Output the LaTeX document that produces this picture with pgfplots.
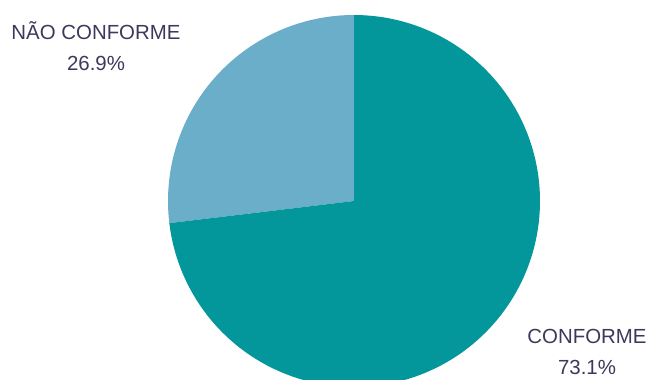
\documentclass[border=0pt]{standalone}
\usepackage{pgfplots}
\pgfplotsset{compat=1.18}
\usepackage{fontspec}
\setmainfont{Liberation Sans}
\definecolor{conf}{RGB}{3,151,155}
\definecolor{naoconf}{RGB}{106,174,201}
\definecolor{lbl}{RGB}{60,58,92}
\def\vNao{26.9}
\def\vConf{73.1}
\def\cx{354}
\def\cy{179}
\def\rr{186}
\begin{document}
\begin{tikzpicture}
\begin{axis}[
  width=651bp, height=380bp, scale only axis,
  xmin=0, xmax=651, ymin=0, ymax=380,
  axis lines=none, clip=true,
]
\addplot[fill=naoconf, draw=none, domain=90:{90+3.6*\vNao}, samples=120, variable=\t]
  ({\cx+\rr*cos(\t)},{\cy+\rr*sin(\t)}) -- (axis cs:\cx,\cy) -- cycle;
\addplot[fill=conf, draw=none, domain={90+3.6*\vNao}:{90+3.6*(\vNao+\vConf)}, samples=240, variable=\t]
  ({\cx+\rr*cos(\t)},{\cy+\rr*sin(\t)}) -- (axis cs:\cx,\cy) -- cycle;
\node[text=lbl, font=\fontsize{20.5}{31}\selectfont, align=center, anchor=center, inner sep=0pt]
  at (axis cs:96,334) {NÃO CONFORME\\26.9\%};
\node[text=lbl, font=\fontsize{20.5}{31}\selectfont, align=center, anchor=center, inner sep=0pt]
  at (axis cs:587,28) {CONFORME\\73.1\%};
\end{axis}
\pgfresetboundingbox
\useasboundingbox (current axis.south west) rectangle (current axis.north east);
\end{tikzpicture}
\end{document}
